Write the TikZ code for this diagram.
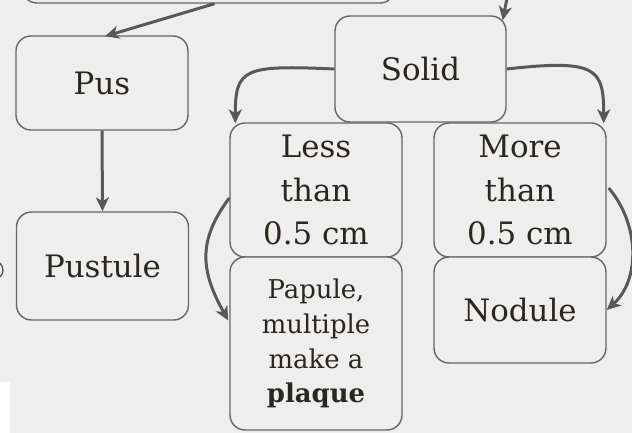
\documentclass[tikz,border=0pt]{standalone}
\usepackage{fontspec}
\setmainfont{DejaVu Serif}
\usepackage{tikz}
\usetikzlibrary{arrows.meta,calc}
\usepackage{xcolor}
\definecolor{bggrey}{RGB}{238,238,238}
\definecolor{edgegrey}{RGB}{102,102,102}
\definecolor{arrowgrey}{RGB}{88,88,88}
\definecolor{inkgrey}{RGB}{42,40,30}

\begin{document}
\begin{tikzpicture}[x=1bp, y=-1bp,
  box/.style={rectangle, rounded corners=15bp, draw=edgegrey, line width=1.4bp, fill=bggrey, text=inkgrey, minimum width=172bp, align=center, inner sep=0pt, font=\fontsize{31}{44}\selectfont},
  smallbox/.style={box, font=\fontsize{26}{35}\selectfont},
  link/.style={draw=arrowgrey, line width=3bp, -{Stealth[length=14bp, width=13bp, inset=4bp]}}]
\fill[bggrey] (0,0) rectangle (632,433);
\useasboundingbox (0,0) rectangle (632,433);
\fill[white] (0,382) rectangle (10,433);
\draw[arrowgrey, line width=1.4bp] (0,263) .. controls (4,268) and (4,273) .. (0,277);

\node (top) [box, minimum width=373bp, minimum height=66bp] at (208.5,-30) {};
\coordinate (above) at (509,-12);

\node (pus) [box, minimum height=94bp] at (102,83) {Pus};
\node (pustule) [box, minimum height=108bp] at (102.5,266) {Pustule};
\node (solid) [box, minimum width=171bp, minimum height=106bp] at (420.5,69) {Solid};
\node (less) [box, minimum height=134bp] at (316,190) {Less\\than\\0.5 cm};
\node (more) [box, minimum height=134bp] at (520,190) {More\\than\\0.5 cm};
\node (papule) [smallbox, minimum height=173bp] at (316,343.5) {Papule,\\multiple\\make a\\\textbf{plaque}};
\node (nodule) [box, minimum height=106bp] at (520,310) {Nodule};

% arrows
\draw [link] ($(top.south)+(6,0)$) -- ($(pus.north)+(3,1)$);
\draw [link] (above) -- ($(solid.north east)+(-4,5)$);
\draw [link] (pus.south) -- (pustule.north);
\draw [link] (solid.west) .. controls +(-90,-4) and +(0,-55) .. ($(less.north west)+(6,1)$);
\draw [link] (solid.east) .. controls +(90,-10) and +(0,-55) .. ($(more.north east)+(-3,1)$);
\draw [link] ($(less.west)+(0,8)$) .. controls (198,240) and (200,270) .. ($(papule.west)+(-1,-23)$);
\draw [link] ($(more.east)+(2,-2)$) .. controls (640,225) and (640,280) .. (nodule.east);
\end{tikzpicture}
\end{document}
